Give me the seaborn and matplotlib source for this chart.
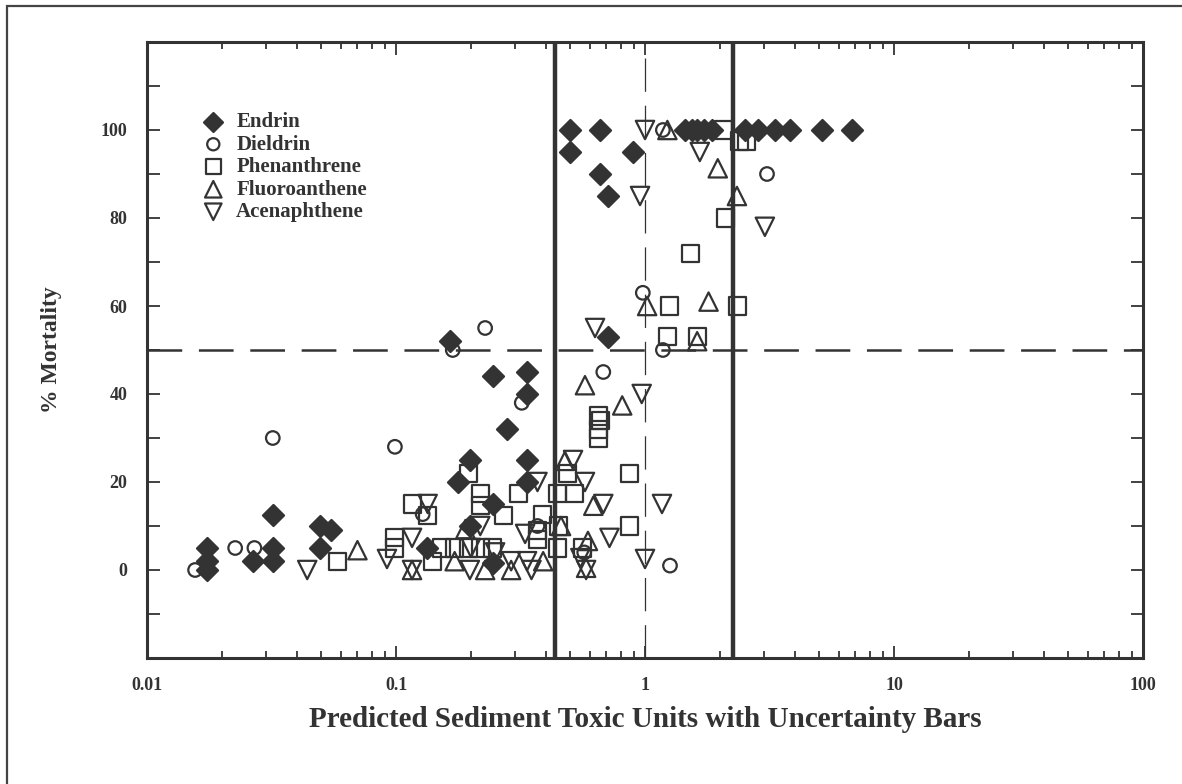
import matplotlib
matplotlib.use('Agg')
import matplotlib.pyplot as plt
import matplotlib.ticker as mticker
from matplotlib.patches import Rectangle
import seaborn as sns
import pandas as pd

# values
endrin_x = [0.0174, 0.0174, 0.0174, 0.0267, 0.032, 0.032, 0.032, 0.0495, 0.055, 0.0495,
            0.133, 0.165, 0.177, 0.198, 0.198, 0.245, 0.245, 0.245, 0.279,
            0.336, 0.336, 0.336, 0.336, 0.50, 0.50, 0.66, 0.66, 0.71, 0.71, 0.895,
            1.45, 1.55, 1.62, 1.72, 1.85, 2.52, 2.84, 3.33, 3.82, 5.14, 6.78]
endrin_y = [0, 2, 5, 2, 12.5, 5, 2, 10, 9, 5,
            5, 52, 20, 25, 10, 44, 15, 1.5, 32,
            45, 40, 25, 20, 100, 95, 100, 90, 85, 53, 95,
            100, 100, 100, 100, 100, 100, 100, 100, 100, 100, 100]

dieldrin_x = [0.0156, 0.0226, 0.027, 0.032, 0.099, 0.128, 0.169, 0.228, 0.32, 0.37,
              0.57, 0.68, 0.98, 1.18, 1.18, 1.26, 3.09]
dieldrin_y = [0, 5, 5, 30, 28, 12.7, 50, 55, 38, 10,
              4, 45, 63, 50, 100, 1, 90]

phen_x = [0.058, 0.099, 0.099, 0.117, 0.134, 0.14, 0.152, 0.172, 0.195, 0.195,
          0.218, 0.218, 0.218, 0.245, 0.27, 0.31, 0.37, 0.37, 0.386, 0.445,
          0.45, 0.447, 0.49, 0.523, 0.56, 0.65, 0.66, 0.65, 0.65, 0.87,
          0.87, 1.23, 1.26, 1.52, 1.62, 2.06, 2.1, 2.36, 2.4, 2.55]
phen_y = [2, 7.3, 5, 15, 12.3, 2, 5, 5, 22, 5,
          17.3, 14.6, 5, 5, 12.3, 17.3, 9, 7, 12.7, 5,
          10, 17.3, 22, 17.3, 5, 35, 34, 32, 30, 22,
          10, 53, 60, 72, 53, 100, 80, 60, 97.5, 97.5]

fluor_x = [0.07, 0.116, 0.172, 0.19, 0.228, 0.29, 0.39, 0.46, 0.477, 0.574,
           0.59, 0.58, 0.62, 0.81, 1.02, 1.23, 1.62, 1.8, 1.96, 2.34]
fluor_y = [4.5, 0, 2, 9.3, 0, 0, 2, 10, 24.8, 42,
           6.6, 0.5, 14.6, 37.4, 60, 100, 52, 61, 91.3, 85]

acen_x = [0.044, 0.092, 0.116, 0.116, 0.134, 0.198, 0.2, 0.218, 0.25, 0.29,
          0.33, 0.336, 0.35, 0.37, 0.514, 0.55, 0.574, 0.58, 0.63, 0.68,
          0.72, 0.955, 0.97, 1.0, 1.0, 1.17, 1.66, 3.03]
acen_y = [0, 2.5, 7.3, 0, 15, 0, 5, 10, 4, 2,
          8.2, 2, 0, 20, 25, 2.7, 20, 0, 55, 15,
          7.3, 85, 40, 100, 2.5, 15, 95, 78]

series_names = ['Endrin', 'Dieldrin', 'Phenanthrene', 'Fluoroanthene', 'Acenaphthene']
x_ticks = [0.01, 0.1, 1, 10, 100]
x_tick_labels = ['0.01', '0.1', '1', '10', '100']
y_ticks = [0, 20, 40, 60, 80, 100]

ink = '#333333'
plt.rcParams['font.family'] = ['Liberation Serif', 'DejaVu Serif']
plt.rcParams['font.weight'] = 'bold'
plt.rcParams['lines.scale_dashes'] = False

fig = plt.figure(figsize=(11.82, 7.84), dpi=100)
ax = fig.add_axes([147 / 1182, 1 - 658 / 784, (1143 - 147) / 1182, (658 - 42) / 784])

styles = [
    (endrin_x, endrin_y, 'D', 115, True),
    (dieldrin_x, dieldrin_y, 'o', 95, False),
    (phen_x, phen_y, 's', 150, False),
    (fluor_x, fluor_y, '^', 175, False),
    (acen_x, acen_y, 'v', 175, False),
]

handles = []
for (xs, ys, mk, size, filled), name in zip(styles, series_names):
    df = pd.DataFrame({'x': xs, 'y': ys})
    sns.scatterplot(data=df, x='x', y='y', marker=mk, s=size, color=ink,
                    edgecolor=ink, linewidth=1.6, ax=ax, legend=False, zorder=3)
    coll = ax.collections[-1]
    if not filled:
        coll.set_facecolor('none')
    coll.set_label(name)
    handles.append(coll)

ax.set_xscale('log')
ax.set_xlim(0.01, 100)
ax.set_ylim(-20, 120)

# reference lines
ax.axvline(0.435, color=ink, lw=3.2, zorder=2)
ax.axvline(2.25, color=ink, lw=3.2, zorder=2)
ax.axvline(1.0, color=ink, lw=0.9, dashes=(24, 10), zorder=2)
ax.axhline(50, color=ink, lw=1.8, dashes=(25, 12), zorder=2)

ax.set_xticks(x_ticks)
ax.set_xticklabels(x_tick_labels)
ax.xaxis.set_minor_locator(mticker.LogLocator(base=10, subs=range(2, 10)))
ax.xaxis.set_minor_formatter(mticker.NullFormatter())
ax.set_yticks(y_ticks)
ax.yaxis.set_minor_locator(mticker.MultipleLocator(10))

ax.tick_params(which='both', direction='in', top=True, right=True, color=ink,
               width=1.3, labelsize=13, labelcolor=ink, pad=14)
ax.tick_params(which='major', length=9)
ax.tick_params(which='minor', length=5)
ax.tick_params(axis='y', which='minor', length=9)
for lab in ax.get_xticklabels() + ax.get_yticklabels():
    lab.set_fontweight('bold')

for sp in ax.spines.values():
    sp.set_linewidth(2.2)
    sp.set_color(ink)

ax.set_xlabel('Predicted Sediment Toxic Units with Uncertainty Bars', fontsize=21,
              fontweight='bold', color=ink, labelpad=8)
ax.set_ylabel('% Mortality', fontsize=17, fontweight='bold', color=ink, labelpad=28)

leg = ax.legend(handles=handles, loc='upper left', bbox_to_anchor=(0.054, 0.886),
                frameon=False, fontsize=15, handletextpad=0.5, labelspacing=0.12,
                borderaxespad=0, borderpad=0, handlelength=1.2, markerscale=0.9)
for t in leg.get_texts():
    t.set_color(ink)
    t.set_fontweight('bold')

# outer frame of the figure (right and bottom edges fall outside the picture)
fig.patches.append(Rectangle((7 / 1182, -0.1), 1.1, 1.1 - 6 / 784,
                             transform=fig.transFigure, fill=False,
                             edgecolor='#444444', lw=1.6))

fig.savefig('out.png', dpi=100, facecolor='white')
